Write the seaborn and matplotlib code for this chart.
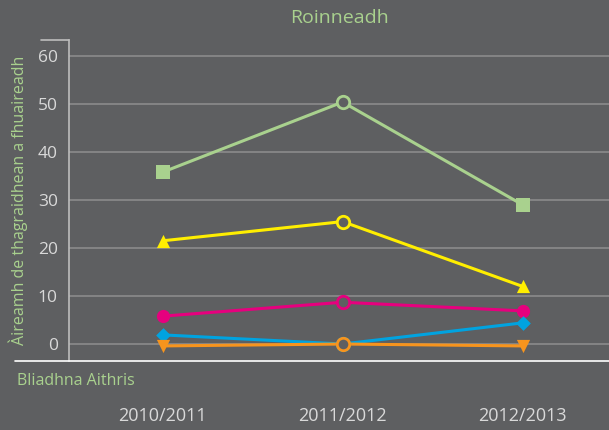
import numpy as np
import pandas as pd
import matplotlib
matplotlib.use('Agg')
import matplotlib.pyplot as plt
from matplotlib.lines import Line2D
import seaborn as sns

# data
years = ['2010/2011', '2011/2012', '2012/2013']
green = [35.8, 50.4, 29.0]
yellow = [21.5, 25.5, 12.0]
pink = [5.8, 8.7, 6.9]
blue = [1.9, 0.0, 4.4]
orange = [-0.4, 0.0, -0.4]

bg = '#5e5f61'
txt_green = '#a9d18e'

sns.set_theme(style='dark')
plt.rcParams['font.family'] = ['Open Sans', 'DejaVu Sans']

fig = plt.figure(figsize=(6.09, 4.30), dpi=100, facecolor=bg)
ax = fig.add_axes([69 / 609, 1 - 361 / 430, 1 - 69 / 609, (361 - 40) / 430])
ax.set_facecolor(bg)

series = [
    ('green', green, '#a9d18e', 's', 9.5),
    ('yellow', yellow, '#ffee00', '^', 9.5),
    ('pink', pink, '#e6007e', 'o', 9.5),
    ('blue', blue, '#00a3e0', 'D', 7.5),
    ('orange', orange, '#f7941d', 'v', 9.5),
]

xpos = np.arange(len(years))
for name, vals, col, mk, ms in series:
    df = pd.DataFrame({'x': xpos, 'y': vals})
    sns.lineplot(data=df, x='x', y='y', color=col, linewidth=2.2, ax=ax)
    ends = df.iloc[[0, 2]]
    sns.scatterplot(data=ends, x='x', y='y', color=col, marker=mk, s=ms ** 2,
                    edgecolor=col, linewidth=0, ax=ax, zorder=4)
    mid = df.iloc[[1]]
    sns.scatterplot(data=mid, x='x', y='y', marker='o', s=80, facecolor=bg,
                    edgecolor=col, linewidth=2, ax=ax, zorder=4)

ax.set_xlim(-0.52, 2.48)
ax.set_ylim(-3.54, 63.33)
ax.set_yticks(range(0, 61, 10))
ax.set_xticks(xpos)
ax.set_xticklabels(years)
ax.set_xlabel('')
ax.set_ylabel('')

ax.grid(axis='y', color='#8f8f8f', linewidth=1.1)
ax.grid(axis='x', visible=False)
ax.set_axisbelow(True)
for s in ['top', 'right', 'bottom']:
    ax.spines[s].set_visible(False)
ax.spines['left'].set_color('#bdbdbd')
ax.spines['left'].set_linewidth(1.2)

ax.tick_params(axis='y', length=0, pad=8, labelsize=12.5, labelcolor='#d9d9d9')
ax.tick_params(axis='x', length=0, pad=33, labelsize=13, labelcolor='#d9d9d9')

# baseline and top tick drawn on the figure
fig.add_artist(Line2D([15 / 609, 1], [1 - 361 / 430] * 2, transform=fig.transFigure,
                      color='white', linewidth=1.2))
fig.add_artist(Line2D([41 / 609, 69 / 609], [1 - 40 / 430] * 2, transform=fig.transFigure,
                      color='#bdbdbd', linewidth=1.2))

fig.text(339 / 609, 1 - 18 / 430, 'Roinneadh', color=txt_green, fontsize=14,
         ha='center', va='center')
fig.text(18 / 609, 1 - 200 / 430, 'Àireamh de thagraidhean a fhuaireadh', color=txt_green,
         fontsize=11.5, rotation=90, ha='center', va='center')
fig.text(17 / 609, 1 - 381 / 430, 'Bliadhna Aithris', color=txt_green, fontsize=11.5,
         ha='left', va='center')

fig.savefig('out.png', dpi=100, facecolor=bg)
